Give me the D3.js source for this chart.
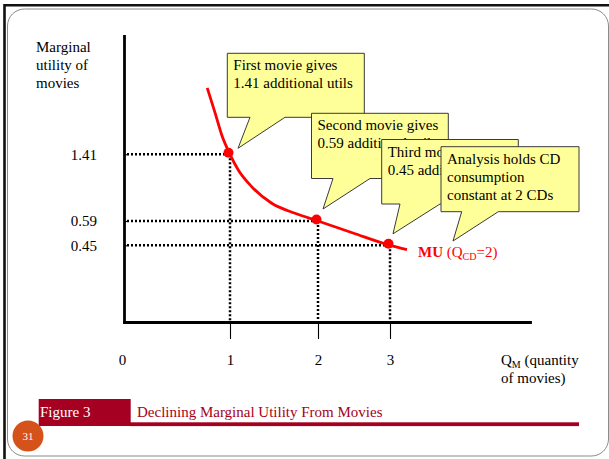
<!DOCTYPE html>
<html><head><meta charset="utf-8">
<script src="https://cdn.jsdelivr.net/npm/d3@7"></script>
<style>
html,body{margin:0;padding:0;background:#fff;}
svg{display:block;}
text{font-family:"Liberation Serif","Times New Roman",serif;}
</style></head>
<body>
<div id="chart"></div>
<script>
// ---- data ----
const quantityTicks = [0, 1, 2, 3];
const muTicks = [0.45, 0.59, 1.41];
const pointQ = [1, 2, 3];
const pointMU = [1.41, 0.59, 0.45];
const curveQ = [0.785, 0.86, 0.922, 1, 1.094, 1.247, 1.474, 1.739, 2, 2.486, 3, 3.243];
const curveMU = [2.225, 1.914, 1.647, 1.41, 1.217, 1.012, 0.808, 0.685, 0.59, 0.521, 0.45, 0.425];
const yTitle = ["Marginal", "utility of", "movies"];
const calloutTexts = [
  ["First movie gives", "1.41 additional utils"],
  ["Second movie gives", "0.59 additional utils"],
  ["Third movie gives", "0.45 additional utils"],
  ["Analysis holds CD", "consumption", "constant at 2 CDs"]
];
const figureLabel = "Figure 3";
const figureTitle = "Declining Marginal Utility From Movies";
const pageNumber = "31";

// ---- layout ----
const W = 609, H = 459;
const svg = d3.select("#chart").append("svg").attr("width", W).attr("height", H);

const x = d3.scaleLinear().domain([0, 1, 2, 3, 5]).range([124, 230, 318, 390, 530]);
const y = d3.scaleLinear().domain([0, 0.45, 0.59, 1.41, 2.86]).range([322, 245.3, 221, 154.3, 36]);

// frame
svg.append("path").attr("d", `M4.5,${H} V5.3 H${W}`).attr("fill", "none")
  .attr("stroke", "#111").attr("stroke-width", 2.6);
svg.append("rect").attr("x", 7.5).attr("y", 9).attr("width", 601).attr("height", 447)
  .attr("rx", 17).attr("fill", "none").attr("stroke", "#8a8a8a").attr("stroke-width", 1);

// y title
svg.append("text").attr("x", 36).attr("y", 51.7).attr("font-size", 15).attr("fill", "#000")
  .selectAll("tspan").data(yTitle).join("tspan")
  .attr("x", 36).attr("dy", (d, i) => i ? 18 : 0).text(d => d);

// dotted guides
const pts = pointQ.map((q, i) => ({q, mu: pointMU[i]}));
const guides = svg.append("g").attr("stroke", "#000").attr("stroke-width", 2.5)
  .attr("stroke-dasharray", "2,2").attr("fill", "none");
guides.selectAll("line.h").data(pts).join("line").attr("class", "h")
  .attr("x1", x(0) + 3).attr("x2", d => x(d.q)).attr("y1", d => y(d.mu)).attr("y2", d => y(d.mu));
guides.selectAll("line.v").data(pts).join("line").attr("class", "v")
  .attr("x1", d => x(d.q)).attr("x2", d => x(d.q)).attr("y1", d => y(d.mu)).attr("y2", y(0));

// axes
const yAxis = d3.axisLeft(y).tickValues(muTicks).tickSizeInner(17).tickSizeOuter(0)
  .tickPadding(10).tickFormat(d3.format(".2f"));
const gy = svg.append("g").attr("transform", `translate(${x(0)},0)`).call(yAxis);
const xAxis = d3.axisBottom(x).tickValues(quantityTicks).tickSizeInner(17).tickSizeOuter(0)
  .tickPadding(15).tickFormat(d3.format("d"));
const gx = svg.append("g").attr("transform", `translate(0,${y(0)})`).call(xAxis);
[gx, gy].forEach(g => {
  g.select(".domain").attr("stroke", "#000").attr("stroke-width", 2.8).attr("stroke-linecap", "square");
  g.selectAll(".tick line").attr("stroke", "#000").attr("stroke-width", 1.1);
  g.selectAll(".tick text").attr("font-family", "'Liberation Serif',serif").attr("font-size", 15).attr("fill", "#000");
});
gy.selectAll(".tick line").attr("x2", 3);
gx.selectAll(".tick").filter(d => d === 0).select("line").remove();
gx.selectAll(".tick").filter(d => d === 0).select("text").attr("dx", -2);
gx.select(".domain").raise();
gy.select(".domain").raise();

// x title
const xt = svg.append("text").attr("x", 501).attr("y", 365).attr("font-size", 15).attr("fill", "#000");
xt.append("tspan").text("Q");
xt.append("tspan").attr("font-size", 10).attr("dy", 3).text("M");
xt.append("tspan").attr("dy", -3).text(" (quantity");
svg.append("text").attr("x", 501).attr("y", 383.3).attr("font-size", 15).attr("fill", "#000").text("of movies)");

// curve
const line = d3.line().x(d => x(d[0])).y(d => y(d[1])).curve(d3.curveMonotoneX);
svg.append("path").datum(curveQ.map((q, i) => [q, curveMU[i]])).attr("d", line)
  .attr("fill", "none").attr("stroke", "#ff0000").attr("stroke-width", 2.8);
svg.selectAll("circle.pt").data(pts).join("circle").attr("class", "pt")
  .attr("cx", d => x(d.q) - 1.5).attr("cy", d => y(d.mu) - 1.5).attr("r", 5).attr("fill", "#ff0000");

// MU label
const ml = svg.append("text").attr("x", 418).attr("y", 256.7).attr("font-size", 15).attr("fill", "#ff0000");
ml.append("tspan").attr("font-weight", "bold").text("MU");
ml.append("tspan").text(" (Q");
ml.append("tspan").attr("font-size", 10).attr("dy", 3).text("CD");
ml.append("tspan").attr("dy", -3).text("=2)");

// callouts
const boxes = [
  {x0: 227.3, x1: 364.3, y0: 53.3, y1: 117.3, t0: 250, t1: 285, tip: [x(1) + 8, y(1.41) - 6]},
  {x0: 311.5, x1: 448.3, y0: 113.3, y1: 178.5, t0: 333, t1: 370, tip: [x(2) + 5, y(0.59) - 12]},
  {x0: 381.7, x1: 518.3, y0: 139.5, y1: 204, t0: 400, t1: 440, tip: [x(3) + 3, y(0.45) - 11.5]},
  {x0: 441, x1: 579, y0: 146.7, y1: 211.7, t0: 461.7, t1: 498.3, tip: [453, 241]}
];
boxes.forEach((b, i) => {
  const g = svg.append("g");
  g.append("path")
    .attr("d", `M${b.x0},${b.y0}H${b.x1}V${b.y1}H${b.t1}L${b.tip[0]},${b.tip[1]}L${b.t0},${b.y1}H${b.x0}Z`)
    .attr("fill", "#ffff99").attr("stroke", "#3a3a3a").attr("stroke-width", 1);
  g.append("text").attr("font-size", 15).attr("fill", "#000")
    .selectAll("tspan").data(calloutTexts[i]).join("tspan")
    .attr("x", b.x0 + 6).attr("y", (d, j) => b.y0 + 17 + j * 18).text(d => d);
});

// figure bar
svg.append("rect").attr("x", 38.7).attr("y", 399).attr("width", 92).attr("height", 27).attr("fill", "#a50021");
svg.append("rect").attr("x", 130).attr("y", 422.3).attr("width", 449).attr("height", 3.8).attr("fill", "#a50021");
svg.append("text").attr("x", 40).attr("y", 416.7).attr("font-size", 15).attr("fill", "#fff").text(figureLabel);
svg.append("text").attr("x", 137).attr("y", 416.7).attr("font-size", 15).attr("fill", "#a50021").text(figureTitle);

// page number
svg.append("circle").attr("cx", 28).attr("cy", 436).attr("r", 15.5).attr("fill", "#d5521b");
svg.append("text").attr("x", 28).attr("y", 440).attr("text-anchor", "middle")
  .attr("font-family", "'DejaVu Sans',sans-serif").attr("font-size", 11).attr("fill", "#fff").text(pageNumber);
</script>
</body></html>
